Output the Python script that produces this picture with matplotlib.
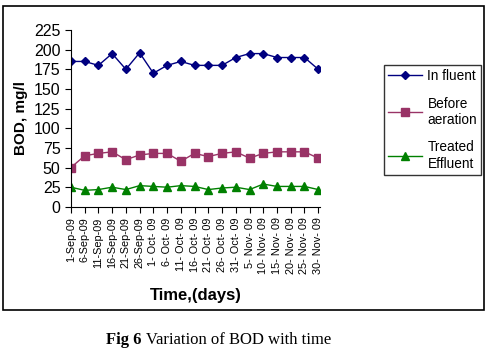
import matplotlib
matplotlib.use("Agg")
import matplotlib.pyplot as plt
from matplotlib.patches import Rectangle

# datas de coleta e valores de BOD (mg/l)
datas = ["1-Sep-09", "6-Sep-09", "11-Sep-09", "16-Sep-09", "21-Sep-09", "26-Sep-09",
         "1- Oct- 09", "6- Oct- 09", "11- Oct- 09", "16- Oct- 09", "21- Oct- 09",
         "26- Oct- 09", "31- Oct- 09", "5- Nov- 09", "10- Nov- 09", "15- Nov- 09",
         "20- Nov- 09", "25- Nov- 09", "30- Nov- 09"]
influente = [185, 185, 180, 195, 175, 196, 170, 180, 185, 180, 180, 180, 190, 195, 195, 190, 190, 190, 175]
antesAeracao = [50, 65, 68, 70, 60, 66, 68, 68, 58, 68, 64, 68, 70, 62, 68, 70, 70, 70, 62]
efluenteTratado = [25, 21, 22, 25, 22, 27, 26, 25, 27, 26, 22, 24, 25, 22, 29, 26, 26, 26, 22]

plt.rcParams['font.family'] = ['Liberation Sans', 'DejaVu Sans']

fig = plt.figure(figsize=(4.89, 3.53), dpi=100)
ax = fig.add_axes([0.145, 0.414, 0.51, 0.501])

x = range(len(datas))
ax.plot(x, influente, color='#000080', marker='D', markersize=4.5, linewidth=1, label='In fluent')
ax.plot(x, antesAeracao, color='#993366', marker='s', markersize=5.5, linewidth=1, label='Before\naeration')
ax.plot(x, efluenteTratado, color='#008000', marker='^', markersize=6, linewidth=1, label='Treated\nEffluent')

ax.set_xlim(0, 18.15)
ax.set_ylim(0, 225)
ax.set_yticks(range(0, 226, 25))
ax.set_xticks(list(x))
ax.set_xticklabels(datas, rotation=90, fontsize=7.8)
ax.tick_params(axis='y', labelsize=11.5, direction='out', length=4)
ax.tick_params(axis='x', direction='out', length=4)
for lado in ['top', 'right']:
    ax.spines[lado].set_visible(False)
ax.set_ylabel('BOD, mg/l', fontweight='bold', fontsize=11, labelpad=4)
ax.set_xlabel('Time,(days)', fontweight='bold', fontsize=12, labelpad=10)

fig.legend(loc='upper left', bbox_to_anchor=(0.785, 0.816), borderaxespad=0, fontsize=9.8,
           frameon=True, fancybox=False, edgecolor='black', handlelength=2.5, borderpad=0.3,
           labelspacing=1.0, handletextpad=0.4)

# moldura externa do grafico
fig.patches.append(Rectangle((0.006, 0.122), 0.984, 0.862, transform=fig.transFigure,
                             fill=False, edgecolor='black', linewidth=1.2))

# legenda da figura
serif = ['Liberation Serif', 'DejaVu Serif']
t1 = fig.text(0.217, 0.025, 'Fig 6', fontweight='bold', fontsize=12, family=serif)
fig.add_artist(plt.Annotation(' Variation of BOD with time', xy=(1, 0), xycoords=t1,
                              va='bottom', fontsize=12, family=serif))

fig.savefig('out.png', dpi=100)
